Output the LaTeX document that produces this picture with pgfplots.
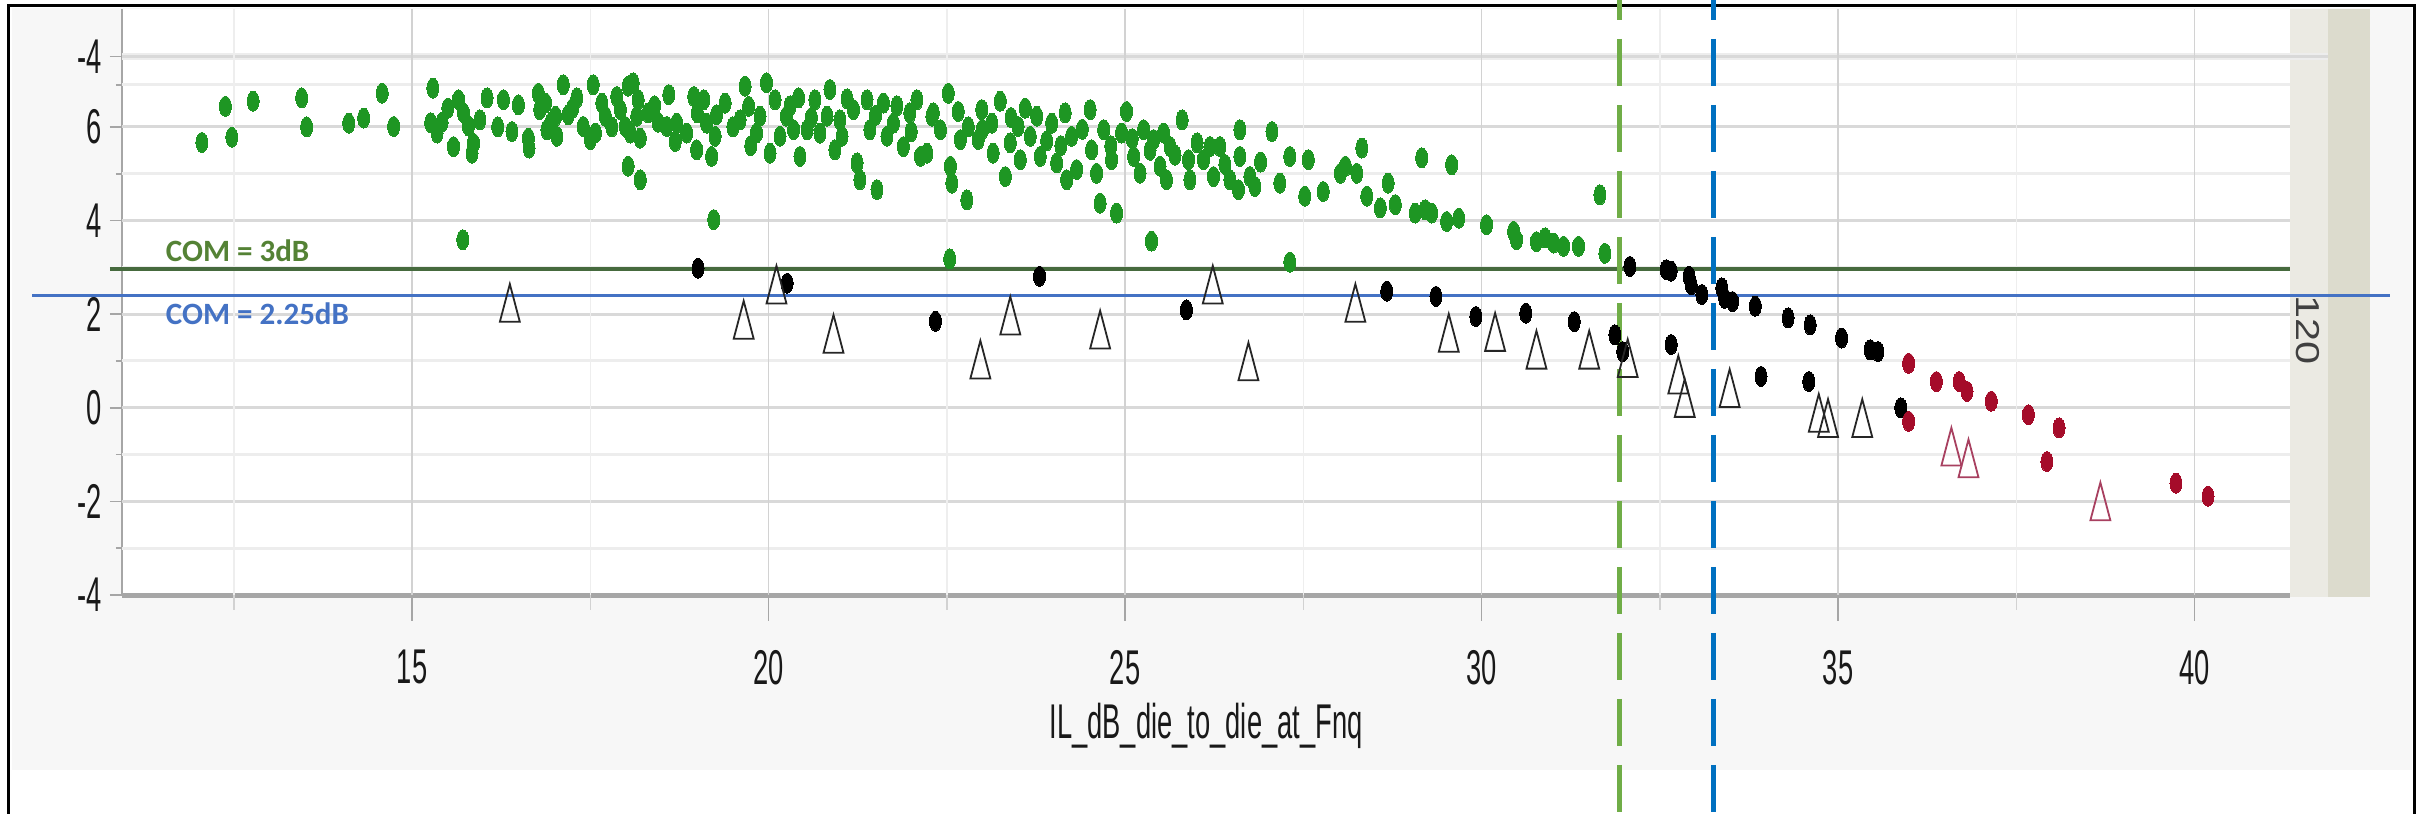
\documentclass[border=0pt]{standalone}
\usepackage{pgfplots}
\usepackage{pgfplotstable}
\pgfplotsset{compat=1.18}
\usepackage{fontspec}
\setmainfont{Liberation Sans}
\newfontfamily\narrowfont[FakeStretch=0.56]{Liberation Sans}
\newfontfamily\calibri{Carlito}
\definecolor{panelgrey}{HTML}{F7F7F7}
\definecolor{gridmajor}{HTML}{D9D9D9}
\definecolor{gridminor}{HTML}{EDEDED}
\definecolor{gridv}{HTML}{D2D2D2}
\definecolor{gridvminor}{HTML}{EEEEEE}
\definecolor{axisgrey}{HTML}{A6A6A6}
\definecolor{striplight}{HTML}{EBEAE3}
\definecolor{stripdark}{HTML}{DCDBCD}
\definecolor{ptgreen}{RGB}{30,150,35}
\definecolor{ptred}{RGB}{165,12,42}
\definecolor{trired}{RGB}{168,64,96}
\definecolor{comline}{RGB}{70,106,62}
\definecolor{comtext}{RGB}{84,130,53}
\definecolor{comblue}{RGB}{68,114,196}
\definecolor{vgreen}{RGB}{112,173,71}
\definecolor{vblue}{RGB}{0,112,192}

\pgfplotstableread{
x y
12.05 5.67
12.38 6.44
12.47 5.78
12.77 6.55
13.45 6.62
13.52 6.00
14.11 6.08
14.32 6.19
14.58 6.72
14.74 6.01
15.29 6.83
15.26 6.09
15.35 5.87
15.42 6.10
15.58 5.58
15.65 6.58
15.72 6.30
15.79 6.02
15.86 5.65
15.84 5.44
15.50 6.40
15.95 6.15
16.05 6.62
16.20 6.00
16.28 6.58
16.40 5.90
16.49 6.47
16.63 5.76
16.64 5.55
16.77 6.72
16.79 6.37
15.71 3.59
16.87 6.51
16.89 5.94
16.95 6.10
17.01 6.23
17.03 5.80
17.12 6.90
17.19 6.26
17.25 6.40
17.31 6.62
17.40 6.01
17.50 5.73
17.54 6.90
17.57 5.87
17.66 6.51
17.71 6.23
17.80 6.00
17.87 6.65
17.92 6.37
17.99 6.01
18.03 6.87
18.10 6.94
18.06 5.87
18.15 6.23
18.17 6.58
18.20 5.76
18.31 6.30
18.03 5.16
18.20 4.87
18.40 6.45
18.45 6.10
18.60 6.69
18.57 6.01
18.71 6.08
18.69 5.69
18.85 5.87
18.95 6.65
18.99 5.51
19.00 6.30
19.09 6.58
19.13 6.08
19.20 5.37
19.25 5.80
19.27 6.26
19.39 6.51
19.23 4.02
19.50 6.00
19.60 6.15
19.67 6.87
19.72 6.44
19.75 5.60
19.83 5.87
19.88 6.23
19.97 6.94
20.02 5.44
20.09 6.58
20.16 5.80
20.25 6.23
20.30 6.45
20.35 5.94
20.42 6.62
20.44 5.37
20.54 5.94
20.60 6.20
20.65 6.58
20.72 5.87
20.82 6.23
20.86 6.80
20.93 5.51
21.00 6.15
21.03 5.80
21.10 6.60
21.19 6.37
21.24 5.23
21.28 4.87
21.38 6.58
21.42 5.94
21.50 6.25
21.52 4.66
21.61 6.51
21.66 5.80
21.75 6.08
21.80 6.45
21.89 5.58
21.98 6.30
22.00 5.90
22.08 6.58
22.13 5.37
22.22 5.44
22.29 6.23
22.52 6.72
22.31 6.30
22.41 5.94
22.66 6.33
22.69 5.73
22.55 5.16
22.57 4.80
22.78 4.44
22.80 6.00
22.94 5.73
22.99 6.37
23.00 5.95
23.13 6.08
23.15 5.44
23.25 6.55
23.32 4.94
23.39 5.66
23.40 6.20
23.50 6.01
23.53 5.30
23.60 6.40
23.67 5.80
23.76 6.23
23.81 5.37
23.90 5.70
23.97 6.08
24.04 5.23
24.10 5.60
24.16 6.30
24.18 4.87
24.25 5.80
24.32 5.09
24.40 5.95
24.51 6.37
24.53 5.51
24.60 5.01
24.65 4.37
24.70 5.94
24.80 5.60
24.81 5.30
24.88 4.16
24.95 5.87
25.02 6.33
25.10 5.75
25.12 5.37
25.21 5.01
25.26 5.94
25.35 5.50
25.40 5.73
25.37 3.56
25.49 5.16
25.58 4.87
25.54 5.87
25.63 5.58
25.70 5.40
25.80 6.15
25.89 5.30
25.91 4.87
26.01 5.66
26.10 5.30
26.19 5.58
26.24 4.94
26.33 5.58
26.40 5.20
26.47 4.87
26.59 4.66
26.61 5.94
26.61 5.37
26.75 4.94
26.82 4.73
26.90 5.25
27.06 5.90
27.17 4.80
27.31 5.37
27.52 4.52
27.57 5.30
27.78 4.62
22.54 3.18
27.31 3.11
28.02 5.01
28.09 5.16
28.25 5.01
28.32 5.55
28.39 4.52
28.58 4.27
28.69 4.80
28.79 4.34
29.07 4.16
29.16 5.34
29.21 4.23
29.30 4.16
29.51 3.98
29.58 5.19
29.68 4.05
30.07 3.91
30.45 3.77
30.49 3.59
30.77 3.55
30.89 3.63
31.01 3.52
31.15 3.45
31.36 3.45
31.66 4.55
31.73 3.30
}\greendata

\pgfplotstableread{
x y
19.01 2.98
20.26 2.66
22.34 1.85
23.80 2.81
25.86 2.09
28.67 2.49
29.36 2.38
29.92 1.95
30.62 2.02
31.30 1.84
31.87 1.56
31.98 1.20
32.08 3.02
32.59 2.95
32.66 2.92
32.91 2.81
32.94 2.63
33.09 2.42
33.37 2.56
33.41 2.34
33.52 2.27
33.84 2.17
34.30 1.92
34.61 1.77
35.05 1.49
35.45 1.24
35.56 1.20
32.66 1.35
33.92 0.67
34.59 0.56
35.88 0.00
}\blackdata

\pgfplotstableread{
x y
16.37 2.24
19.65 1.88
20.11 2.63
20.91 1.58
22.97 1.03
23.39 1.97
24.65 1.67
26.23 2.63
26.73 0.99
28.23 2.24
29.54 1.60
30.19 1.62
30.77 1.24
31.51 1.24
32.05 1.06
32.76 0.71
32.85 0.21
33.48 0.42
34.73 -0.11
34.86 -0.22
35.34 -0.22
}\tridata

\pgfplotstableread{
x y
35.99 0.95
36.38 0.56
36.70 0.56
36.81 0.35
37.15 0.14
37.67 -0.15
38.10 -0.43
37.93 -1.15
35.99 -0.29
39.74 -1.61
40.19 -1.89
}\reddata

\pgfplotstableread{
x y
36.59 -0.83
36.83 -1.08
38.68 -2.00
}\redtridata

\begin{document}
\begin{tikzpicture}
\fill[white] (-61pt,-109pt) rectangle (1153pt,297.5pt);
\path[use as bounding box] (-61pt,-109pt) rectangle (1153pt,297.5pt);
\fill[panelgrey] (-55pt,-87.5pt) rectangle (1145pt,293.5pt);
\fill[striplight] (1084pt,-1pt) rectangle (1103pt,293pt);
\fill[stripdark] (1103pt,-1pt) rectangle (1124pt,293pt);
\node[rotate=-90, inner sep=0pt, text=black!75, font=\fontsize{20.7}{22}\selectfont] at (1093pt,132.5pt) {\scalebox{1}[0.8]{120}};
\draw[black, line width=1.5pt] (-56.5pt,-120pt) -- (-56.5pt,294.5pt) -- (1146pt,294.5pt) -- (1146pt,-120pt);

\begin{axis}[
  at={(0pt,0pt)}, anchor=south west,
  scale only axis, width=1084pt, height=293pt,
  xmin=10.93, xmax=41.34, ymin=-4, ymax=8.52,
  clip=false,
  axis x line*=bottom, axis y line*=left,
  axis line style={-},
  x axis line style={line width=2.5pt, color=axisgrey},
  y axis line style={line width=1pt, color=axisgrey},
  axis background/.style={fill=white},
  xtick={15,20,25,30,35,40},
  xticklabels={15,20,25,30,35,40},
  xtick style={draw=none},
  ytick={-4,-2,0,2,4,6,7.5},
  yticklabels={{-4},{-2},{0},{2},{4},{6},{-4}},
  minor ytick={-3,-1,1,3,5,6.9},
  ytick style={color=axisgrey, line width=0.75pt},
  major tick length=6pt, minor tick length=3pt,
  tick align=outside,
  xticklabel style={font=\narrowfont\fontsize{24.4}{28}\selectfont, text=black!90, inner sep=0pt, anchor=north, yshift=-21.5pt},
  yticklabel style={font=\narrowfont\fontsize{24.4}{28}\selectfont, text=black!90, inner sep=0pt, anchor=east, xshift=-4pt},
]
% grid lines
\pgfplotsinvokeforeach{-3,-1,1,3,5,6.9}{
  \draw[gridminor, line width=1.5pt] (axis cs:10.93,#1) -- (axis cs:41.34,#1);
}
\pgfplotsinvokeforeach{-2,0,2,4,6}{
  \draw[gridmajor, line width=1.5pt] (axis cs:10.93,#1) -- (axis cs:41.34,#1);
}
\draw[gridminor, line width=3.5pt] (axis cs:10.93,7.5) -- (axis cs:41.87,7.5);
\draw[gridmajor, line width=1.5pt] (axis cs:10.93,7.5) -- (axis cs:41.87,7.5);
\pgfplotsinvokeforeach{12.5,17.5,22.5,27.5,32.5,37.5}{
  \draw[gridvminor, line width=0.75pt] (axis cs:#1,-4) -- (axis cs:#1,8.52);
  \draw[gridv, line width=0.75pt] (axis cs:#1,-4) -- ++(0pt,-7.5pt);
}
\pgfplotsinvokeforeach{15,20,25,30,35,40}{
  \draw[gridv, line width=0.75pt] (axis cs:#1,-4) -- (axis cs:#1,8.52);
  \draw[axisgrey, line width=0.75pt] (axis cs:#1,-4) -- ++(0pt,-13pt);
}
% COM reference lines
\draw[comline, line width=2pt] (axis cs:10.76,2.97) -- (axis cs:41.34,2.97);
\draw[comblue, line width=1.5pt] (axis cs:9.67,2.39) -- (axis cs:42.74,2.39);

\addplot[ptgreen, only marks, mark=*, mark size=5pt, mark options={xscale=0.6, fill=ptgreen, draw=ptgreen, line width=0pt}] table {\greendata};
\addplot[black, only marks, mark=*, mark size=5pt, mark options={xscale=0.6, fill=black, draw=black, line width=0pt}] table {\blackdata};
\addplot[ptred, only marks, mark=*, mark size=5pt, mark options={xscale=0.6, fill=ptred, draw=ptred, line width=0pt}] table {\reddata};
\addplot[black!85, only marks, mark=triangle, mark size=6pt, mark options={yshift=-3.15pt, xscale=0.96, yscale=2.1, draw=black!85, line width=0.9pt}] table {\tridata};
\addplot[trired, only marks, mark=triangle, mark size=6pt, mark options={yshift=-3.15pt, xscale=0.96, yscale=2.1, draw=trired, line width=0.9pt}] table {\redtridata};

\node[anchor=base west, inner sep=0pt, font=\calibri\bfseries\fontsize{15.5}{18}\selectfont, text=comtext] at (axis cs:11.54,3.12) {COM = 3dB};
\node[anchor=base west, inner sep=0pt, font=\calibri\bfseries\fontsize{15.5}{18}\selectfont, text=comblue] at (axis cs:11.54,1.77) {COM = 2.25dB};

\node[anchor=base, inner sep=0pt, yshift=-71.5pt, font=\narrowfont\fontsize{24.4}{28}\selectfont, text=black!90] at (rel axis cs:0.5,0) {IL\_dB\_die\_to\_die\_at\_Fnq};

% vertical dashed markers
\draw[vgreen, line width=2.5pt, dash pattern=on 23.5pt off 9.5pt] (axis cs:31.93,9.29) -- (axis cs:31.93,-9.2);
\draw[vblue, line width=2.5pt, dash pattern=on 23.5pt off 9.5pt] (axis cs:33.25,9.29) -- (axis cs:33.25,-9.2);
\end{axis}
\end{tikzpicture}
\end{document}
